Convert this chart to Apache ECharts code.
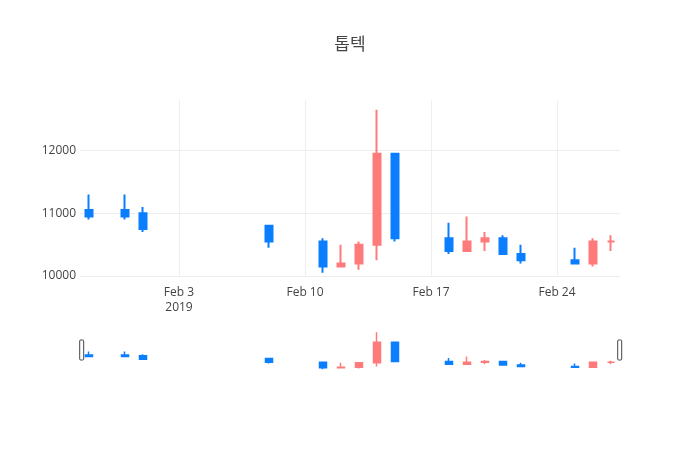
<!DOCTYPE html>
<html><head><meta charset="utf-8">
<script src="https://cdn.jsdelivr.net/npm/echarts@6/dist/echarts.min.js"></script>
<style>html,body{margin:0;padding:0;background:#fff}#c{width:700px;height:450px}</style>
</head><body><div id="c"></div>
<script>
const chartTitle = '톱텍';
const dates = ['2019-01-29','2019-01-31','2019-02-01','2019-02-08','2019-02-11','2019-02-12','2019-02-13','2019-02-14','2019-02-15','2019-02-18','2019-02-19','2019-02-20','2019-02-21','2019-02-22','2019-02-25','2019-02-26','2019-02-27'];
const openVals  = [11050,11050,11000,10800,10550,10150,10200,10500,11950,10600,10400,10550,10600,10350,10250,10200,10550];
const closeVals = [10950,10950,10750,10550,10150,10200,10500,11950,10600,10400,10550,10600,10350,10250,10200,10550,10550];
const lowVals   = [10900,10900,10700,10450,10050,10150,10100,10250,10550,10350,10400,10400,10350,10200,10200,10150,10400];
const highVals  = [11300,11300,11100,10800,10600,10500,10550,12650,11950,10850,10950,10700,10650,10500,10450,10600,10650];
const xTickLabels = ['Feb 3\n2019','Feb 10','Feb 17','Feb 24'];
const xTickOrigin = '2019-02-03T00:00:00Z';
const xRange = ['2019-01-28T12:00:00Z','2019-02-27T12:00:00Z'];
const yTicks = [10000, 11000, 12000];

const RED = '#ff7b7b', BLUE = '#0a7eff';
const FONT = '"Open Sans", "Noto Sans CJK KR", sans-serif';
const WEEK = 7 * 86400000;
const ref = Date.parse(xTickOrigin);
const wk = s => (Date.parse(s) - ref) / WEEK;
const data = dates.map((d, i) => [wk(d + 'T00:00:00Z'), openVals[i], closeVals[i], lowVals[i], highVals[i]]);
const xMin = wk(xRange[0]), xMax = wk(xRange[1]);
const yMin = yTicks[0], yMax = 12805;

const chart = echarts.init(document.getElementById('c'));
const candleStyle = (w) => ({color: RED, color0: BLUE, borderColor: RED, borderColor0: BLUE, borderColorDoji: RED, borderWidth: w});
chart.setOption({
  animation: false,
  backgroundColor: '#fff',
  title: {text: chartTitle, left: 'center', top: 32, textStyle: {fontSize: 17, fontWeight: 'normal', color: '#444', fontFamily: FONT}},
  grid: [
    {left: 80, right: 80, top: 100, height: 176},
    {left: 80, right: 80, top: 330, height: 40}
  ],
  xAxis: [
    {type: 'value', gridIndex: 0, min: xMin, max: xMax, splitNumber: 4,
     axisLine: {show: false}, axisTick: {show: false},
     axisLabel: {color: '#444', fontSize: 12, fontFamily: FONT, margin: 9, lineHeight: 15, showMinLabel: false, showMaxLabel: false,
       formatter: v => {
         const r = Math.round(v);
         return (Math.abs(v - r) < 1e-6 && xTickLabels[r] !== undefined) ? xTickLabels[r] : '';
       }},
     splitLine: {show: true, showMinLine: false, showMaxLine: false, lineStyle: {color: '#eee', width: 1}}},
    {type: 'value', gridIndex: 1, min: xMin, max: xMax, show: false}
  ],
  yAxis: [
    {type: 'value', gridIndex: 0, min: yMin, max: yMax, interval: yTicks[1] - yTicks[0],
     axisLine: {show: false}, axisTick: {show: false},
     axisLabel: {color: '#444', fontSize: 12, fontFamily: FONT, margin: 4, showMaxLabel: false, formatter: v => String(v)},
     splitLine: {show: true, showMaxLine: false, lineStyle: {color: '#eee', width: 1}}},
    {type: 'value', gridIndex: 1, min: yMin, max: yMax, show: false}
  ],
  dataZoom: [{
    type: 'slider', xAxisIndex: [0, 1], filterMode: 'none', start: 0, end: 100,
    left: 80, right: 80, top: 330, height: 40,
    showDataShadow: false, showDetail: false, brushSelect: false,
    backgroundColor: 'rgba(0,0,0,0)', borderColor: 'rgba(0,0,0,0)', fillerColor: 'rgba(0,0,0,0)',
    handleIcon: 'path://M1,0H3A1,1,0,0,1,4,1V19A1,1,0,0,1,3,20H1A1,1,0,0,1,0,19V1A1,1,0,0,1,1,0Z',
    handleSize: '50%',
    handleStyle: {color: '#fff', borderColor: '#444', borderWidth: 1, shadowBlur: 0, shadowColor: 'rgba(0,0,0,0)'},
    moveHandleSize: 0, moveHandleStyle: {opacity: 0},
    dataBackground: {lineStyle: {opacity: 0}, areaStyle: {opacity: 0}},
    selectedDataBackground: {lineStyle: {opacity: 0}, areaStyle: {opacity: 0}}
  }],
  series: [
    {type: 'candlestick', xAxisIndex: 0, yAxisIndex: 0, data: data, encode: {x: 0, y: [1, 2, 3, 4]}, barWidth: 8, itemStyle: candleStyle(2)},
    {type: 'candlestick', xAxisIndex: 1, yAxisIndex: 1, data: data, encode: {x: 0, y: [1, 2, 3, 4]}, barWidth: 8, itemStyle: candleStyle(1.5)}
  ]
});
</script>
</body></html>
